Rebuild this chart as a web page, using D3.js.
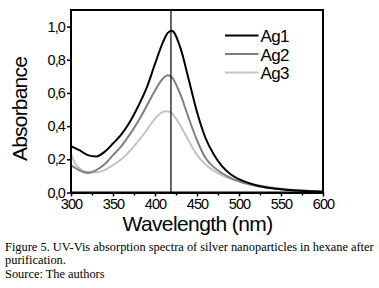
<!DOCTYPE html>
<html><head><meta charset="utf-8">
<script src="https://cdn.jsdelivr.net/npm/d3@7"></script>
<style>
html,body{margin:0;padding:0;background:#fff;}
svg{display:block;}
</style>
</head><body>
<svg id="c" width="379" height="288"></svg>
<script>
const wavelengths = [300,305,310,320,330,340,350,360,370,380,390,400,410,415,420,430,440,450,460,470,480,490,500,520,540,560,580,600];
const ag1 = [0.28,0.268,0.255,0.225,0.217,0.245,0.295,0.35,0.425,0.52,0.63,0.775,0.912,0.96,0.975,0.876,0.684,0.485,0.33,0.229,0.157,0.11,0.08,0.044,0.025,0.015,0.009,0.005];
const ag2 = [0.165,0.148,0.133,0.118,0.135,0.17,0.225,0.28,0.35,0.43,0.52,0.615,0.69,0.706,0.695,0.594,0.45,0.315,0.21,0.153,0.116,0.088,0.067,0.04,0.025,0.015,0.01,0.005];
const ag3 = [0.231,0.175,0.145,0.123,0.122,0.135,0.165,0.2,0.25,0.31,0.375,0.445,0.487,0.49,0.478,0.405,0.312,0.227,0.17,0.13,0.103,0.083,0.068,0.047,0.03,0.018,0.01,0.005];
const seriesNames = ["Ag1","Ag2","Ag3"];
const seriesColors = ["#000000","#808080","#c4c4c4"];
const xTicks = [300,350,400,450,500,550,600];
const xMinorTicks = [325,375,425,475,525,575];
const yTicks = [0,0.2,0.4,0.6,0.8,1.0];
const markerLine = 419;
const captionLines = ["Figure 5. UV-Vis absorption spectra of silver nanoparticles in hexane after","purification.","Source: The authors"];

const svg = d3.select("#c");
const L=71, R=323, T=10, B=192.5;
const x = d3.scaleLinear().domain([300,600]).range([L,R]);
const y = d3.scaleLinear().domain([0,1.1]).range([B,T]);

const allSeries = [ag1,ag2,ag3];
const line = d3.line().x(d=>x(d[0])).y(d=>y(d[1])).curve(d3.curveMonotoneX);
const g = svg.append("g");
allSeries.slice().reverse().forEach((s,ri)=>{
  const i = allSeries.length-1-ri;
  g.append("path").datum(wavelengths.map((w,k)=>[w,s[k]]))
    .attr("d",line).attr("fill","none").attr("stroke",seriesColors[i]).attr("stroke-width",2);
});

// vertical marker
svg.append("line").attr("x1",x(markerLine)).attr("x2",x(markerLine)).attr("y1",T).attr("y2",B)
  .attr("stroke","#000").attr("stroke-width",1.2);

// frame
svg.append("rect").attr("x",L).attr("y",T).attr("width",R-L).attr("height",B-T)
  .attr("fill","none").attr("stroke","#000").attr("stroke-width",2);

const tickFont = "Arial, 'Liberation Sans', sans-serif";
// x axis
const xAxis = d3.axisBottom(x).tickValues(xTicks).tickSize(4).tickSizeOuter(0).tickPadding(2).tickFormat(d3.format("d"));
const xa = svg.append("g").attr("transform",`translate(0,${B})`).call(xAxis);
xa.select(".domain").attr("stroke-width",2);
xa.selectAll(".tick line").attr("stroke-width",1.5);
xa.selectAll("text").attr("font-family",tickFont).attr("font-size",14.5).attr("fill","#000").attr("letter-spacing","-0.9px");
const xm = svg.append("g").attr("transform",`translate(0,${B})`).call(d3.axisBottom(x).tickValues(xMinorTicks).tickSize(3).tickFormat(""));
xm.select(".domain").remove();
xm.selectAll(".tick line").attr("stroke-width",1.5);

// y axis
const yAxis = d3.axisLeft(y).tickValues(yTicks).tickSize(4).tickSizeOuter(0).tickPadding(2)
  .tickFormat(d=>d3.format(".1f")(d).replace(".",","));
const ya = svg.append("g").attr("transform",`translate(${L},0)`).call(yAxis);
ya.select(".domain").remove();
ya.selectAll(".tick line").attr("stroke-width",1.5);
ya.selectAll("text").attr("font-family",tickFont).attr("font-size",14.5).attr("fill","#000").attr("letter-spacing","-0.9px");

// axis titles
svg.append("text").attr("x",(L+R)/2+0.5).attr("y",230.5).attr("text-anchor","middle")
  .attr("font-family",tickFont).attr("font-size",21).attr("letter-spacing","-0.6px").text("Wavelength (nm)");
svg.append("text").attr("transform",`translate(27,109) rotate(-90)`).attr("text-anchor","middle")
  .attr("font-family",tickFont).attr("font-size",21).attr("letter-spacing","-0.8px").text("Absorbance");

// legend
seriesNames.forEach((n,i)=>{
  const ly = 35.5 + i*18.5;
  svg.append("line").attr("x1",225).attr("x2",258.5).attr("y1",ly).attr("y2",ly)
    .attr("stroke",seriesColors[i]).attr("stroke-width",2);
  svg.append("text").attr("x",260.5).attr("y",ly+6.5).attr("font-family",tickFont).attr("font-size",17)
    .attr("letter-spacing","-0.7px").text(n);
});

// caption
captionLines.forEach((t,i)=>{
  svg.append("text").attr("x",5).attr("y",250.5+i*13.5).attr("font-family","'Liberation Serif','Times New Roman',serif")
    .attr("font-size",12.4).text(t);
});
</script>
</body></html>
